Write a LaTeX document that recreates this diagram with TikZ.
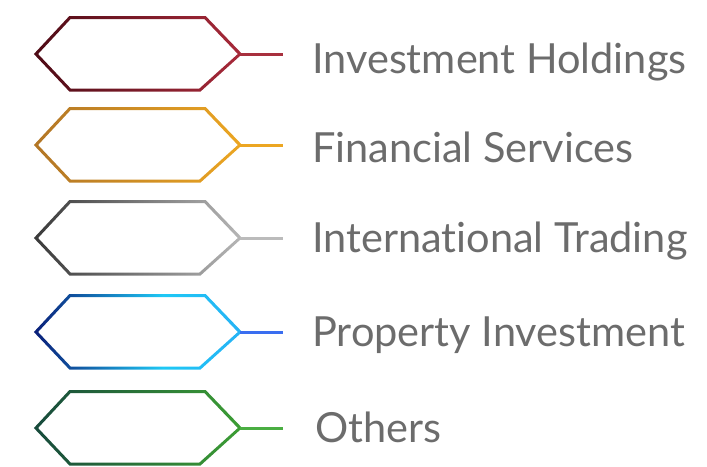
\documentclass[tikz,border=0pt]{standalone}
\usepackage{fontspec}
\setmainfont{Lato}[Ligatures={NoCommon,NoContextual}]
\definecolor{txt}{HTML}{6C6C6C}
\definecolor{rA}{HTML}{4E0B16}\definecolor{rB}{HTML}{A82A3A}\definecolor{rL}{HTML}{A8303E}
\definecolor{oA}{HTML}{B27626}\definecolor{oB}{HTML}{ECA622}\definecolor{oL}{HTML}{ECA622}
\definecolor{gA}{HTML}{3A3A3A}\definecolor{gB}{HTML}{B6B6B6}\definecolor{gL}{HTML}{BBBBBB}
\definecolor{bA}{HTML}{0A1E78}\definecolor{bM}{HTML}{1EC8F5}\definecolor{bB}{HTML}{26B2F5}\definecolor{bL}{HTML}{3A6EF0}
\definecolor{nA}{HTML}{174A3C}\definecolor{nB}{HTML}{3C9E34}\definecolor{nL}{HTML}{4AAE42}
\pgfdeclarehorizontalshading{shR}{100bp}{color(0bp)=(rA); color(25bp)=(rA); color(75bp)=(rB); color(100bp)=(rB)}
\pgfdeclarehorizontalshading{shO}{100bp}{color(0bp)=(oA); color(25bp)=(oA); color(75bp)=(oB); color(100bp)=(oB)}
\pgfdeclarehorizontalshading{shG}{100bp}{color(0bp)=(gA); color(25bp)=(gA); color(75bp)=(gB); color(100bp)=(gB)}
\pgfdeclarehorizontalshading{shB}{100bp}{color(0bp)=(bA); color(25bp)=(bA); color(56bp)=(bM); color(75bp)=(bB); color(100bp)=(bB)}
\pgfdeclarehorizontalshading{shN}{100bp}{color(0bp)=(nA); color(25bp)=(nA); color(75bp)=(nB); color(100bp)=(nB)}
\tikzset{
  lbl/.style={anchor=base west, inner sep=0pt, text=txt, font=\fontsize{41.5}{48}\selectfont},
  tick/.style={line width=3pt}
}
\newcommand{\hexring}[2]{% #1 = shading, #2 = centre y
  \shade[shading=#1, even odd rule]
    (33.9,#2) -- (69.35,#2-38) -- (205.64,#2-38) -- (242.15,#2) -- (200.58,#2+37.5) -- (69.35,#2+37.5) -- cycle
    (38.05,#2) -- (70.65,#2-35) -- (204.36,#2-35) -- (237.85,#2) -- (199.42,#2+34.5) -- (70.65,#2+34.5) -- cycle;
}
\begin{document}
\begin{tikzpicture}[x=1pt,y=-1pt]
\useasboundingbox (0,0) rectangle (707,466);
\foreach \sh/\cy/\lc/\by/\lab/\nm/\xx in {
  shR/54/rL/73/{Investment Holdings}/a/312,
  shO/145/oL/162/{Financial Services}/b/312,
  shG/238/gL/252/{International Trading}/c/312,
  shB/332/bL/346/{Property Investment}/d/312,
  shN/428/nL/442/{Others}/e/315}{
  \hexring{\sh}{\cy}
  \coordinate (r\nm) at (240,\cy);
  \coordinate (e\nm) at (283,\cy);
  \draw[tick, draw=\lc] (r\nm) -- (e\nm);
  \node[lbl] (t\nm) at (\xx,\by) {\lab};
}
\end{tikzpicture}
\end{document}
